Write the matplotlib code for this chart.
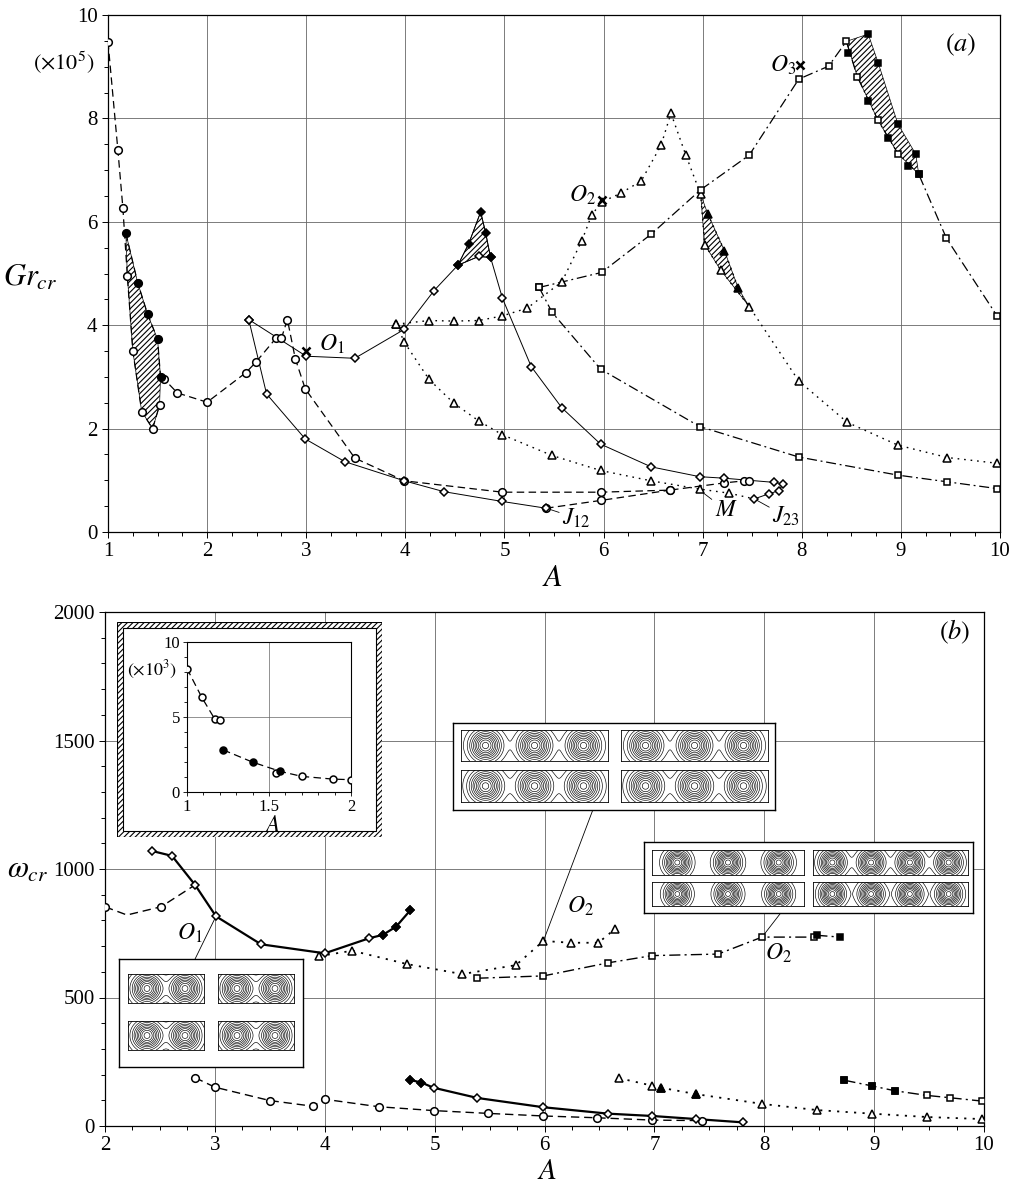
import numpy as np
import matplotlib
matplotlib.use('Agg')
import matplotlib.pyplot as plt
from matplotlib.patches import Rectangle, Polygon
from matplotlib.ticker import MultipleLocator

plt.rcParams['font.family'] = 'Liberation Serif'
plt.rcParams['mathtext.fontset'] = 'stix'
plt.rcParams['hatch.linewidth'] = 0.8

W, H = 1013, 1185

# ---------------- panel (a): Gr_cr (x1e5) vs A ----------------
a_circ1_A = [1.0, 1.10, 1.15, 1.195, 1.25, 1.34, 1.45, 1.52]
a_circ1_G = [9.48, 7.38, 6.27, 4.96, 3.51, 2.33, 2.00, 2.45]
a_circ1f_A = [1.18, 1.30, 1.40, 1.50, 1.53]
a_circ1f_G = [5.78, 4.82, 4.21, 3.73, 3.00]
a_circ2_A = [1.53, 1.57, 1.70, 2.0, 2.39, 2.49, 2.70, 2.75, 2.81, 2.89, 2.99, 3.49,
             3.99, 4.98, 5.97, 6.67, 7.22, 7.42, 7.47]
a_circ2_G = [3.00, 2.95, 2.69, 2.51, 3.08, 3.28, 3.76, 3.75, 4.11, 3.35, 2.77, 1.43,
             0.99, 0.77, 0.77, 0.81, 0.95, 0.99, 0.99]
a_circ3_A = [5.42, 5.97, 6.67]
a_circ3_G = [0.46, 0.61, 0.81]

a_dia1_A = [2.42, 2.60, 2.99, 3.39, 3.99, 4.39, 4.98, 5.42]
a_dia1_G = [4.11, 2.67, 1.80, 1.36, 0.99, 0.78, 0.59, 0.46]
a_dia2_A = [2.42, 3.0, 3.49, 3.99, 4.29, 4.53, 4.74, 4.86, 4.98, 5.27, 5.58, 5.97,
            6.48, 6.97, 7.22, 7.72, 7.81, 7.77, 7.67, 7.52]
a_dia2_G = [4.11, 3.40, 3.36, 3.92, 4.67, 5.16, 5.33, 5.31, 4.52, 3.20, 2.40, 1.70,
            1.26, 1.07, 1.04, 0.96, 0.93, 0.80, 0.74, 0.64]
a_dia2f_A = [4.53, 4.64, 4.76, 4.81, 4.86]
a_dia2f_G = [5.16, 5.58, 6.19, 5.79, 5.31]

a_tri1_A = [3.91, 4.24, 4.49, 4.74, 4.98, 5.23, 5.58, 5.78, 5.88, 5.98, 6.18, 6.38,
            6.58, 6.68, 6.83, 6.98, 7.02, 7.18, 7.47, 7.97, 8.46, 8.97, 9.47, 9.97]
a_tri1_G = [4.02, 4.09, 4.08, 4.09, 4.18, 4.33, 4.84, 5.63, 6.13, 6.38, 6.56, 6.79,
            7.48, 8.10, 7.29, 6.53, 5.56, 5.07, 4.36, 2.92, 2.12, 1.68, 1.44, 1.33]
a_tri1f_A = [7.05, 7.22, 7.36]
a_tri1f_G = [6.16, 5.44, 4.71]
a_tri2_A = [3.91, 3.99, 4.24, 4.49, 4.74, 4.98, 5.48, 5.97, 6.48, 6.97, 7.27, 7.52]
a_tri2_G = [4.02, 3.67, 2.95, 2.49, 2.15, 1.88, 1.48, 1.19, 0.99, 0.83, 0.75, 0.64]

a_sq1_A = [5.35, 5.98, 6.48, 6.98, 7.47, 7.97, 8.27, 8.45, 8.56, 8.77, 8.97, 9.18, 9.46, 9.97]
a_sq1_G = [4.73, 5.02, 5.76, 6.62, 7.29, 8.76, 9.01, 9.49, 8.81, 7.96, 7.32, 6.92, 5.68, 4.18]
a_sq1f_A = [8.47, 8.67, 8.77, 8.67, 8.97, 8.87, 9.15, 9.07, 9.18]
a_sq1f_G = [9.26, 9.63, 9.08, 8.34, 7.89, 7.63, 7.31, 7.07, 6.92]
a_sq2_A = [5.35, 5.48, 5.97, 6.97, 7.97, 8.97, 9.47, 9.97]
a_sq2_G = [4.73, 4.25, 3.15, 2.04, 1.45, 1.10, 0.97, 0.84]

a_cross_A = [3.0, 5.98, 7.98]
a_cross_G = [3.50, 6.42, 9.03]

# ---------------- panel (b): omega_cr vs A ----------------
b_circ1_A = [2.0, 2.2, 2.51, 2.82]
b_circ1_W = [853, 821, 853, 938]
b_dia1_A = [2.43, 2.61, 2.82, 3.01, 3.42, 4.0, 4.40, 4.53, 4.65, 4.78]
b_dia1_W = [1070, 1051, 938, 816, 707, 672, 730, 744, 776, 840]
b_tri1_A = [3.95, 4.25, 4.75, 5.25, 5.74, 5.99, 6.24, 6.49, 6.64]
b_tri1_W = [661, 682, 630, 591, 626, 720, 713, 713, 766]
b_sq1_A = [5.39, 5.99, 6.58, 6.98, 7.58, 7.98, 8.45, 8.48, 8.69]
b_sq1_W = [575, 584, 635, 663, 669, 735, 735, 742, 735]

b_circ2_A = [2.82, 3.0, 3.5, 3.89, 4.0, 4.49, 4.99, 5.49, 5.99, 6.48, 6.98, 7.43]
b_circ2_W = [188, 151, 99, 77, 104, 75, 60, 49, 39, 32, 23, 21]
b_dia2_A = [4.78, 4.88, 4.99, 5.39, 5.99, 6.58, 6.98, 7.38, 7.81]
b_dia2_W = [179, 169, 149, 109, 73, 48, 39, 27, 14]
b_tri2_A = [6.68, 6.98, 7.06, 7.38, 7.98, 8.48, 8.98, 9.48, 9.98]
b_tri2_W = [186, 157, 149, 124, 86, 62, 48, 35, 27]
b_sq2_A = [8.73, 8.98, 9.19, 9.48, 9.69, 9.98]
b_sq2_W = [178, 156, 137, 119, 110, 97]

# inset (x1e3)
in_open1_A = [1.0, 1.09, 1.17, 1.20]
in_open1_W = [8.23, 6.31, 4.85, 4.80]
in_fill_A = [1.22, 1.40, 1.57, 1.70, 1.89, 2.0]
in_fill_W = [2.81, 1.99, 1.37, 1.04, 0.86, 0.82]
in_open2_A = [1.54, 1.70, 1.89, 2.0]
in_open2_W = [1.26, 1.04, 0.86, 0.82]

DASH = (6, 3.5)
DOT = (1.2, 3.5)
DASHDOT = (8, 3, 1.5, 3)


def line(ax, A, V, dashes=None, lw=0.8):
    if dashes is None:
        ax.plot(A, V, color='k', lw=lw, zorder=3)
    else:
        ax.plot(A, V, color='k', lw=lw, dashes=dashes, zorder=3)


def marks(ax, A, V, marker, fill='white', ms=5.5, every=None):
    ax.plot(A, V, ls='none', marker=marker, ms=ms, mfc=fill, mec='k', mew=1.1,
            markevery=every, zorder=5)


def hatch(ax, xs, ys):
    ax.add_patch(Polygon(np.column_stack([xs, ys]), closed=True, facecolor='white',
                         edgecolor='k', lw=0.5, hatch='//////', zorder=2))


def style_axes(ax):
    ax.tick_params(which='both', direction='out', labelsize=15, width=0.7)
    ax.tick_params(which='major', length=4)
    ax.tick_params(which='minor', length=3)
    ax.grid(True, which='major', color='0.4', lw=0.6)
    for s in ax.spines.values():
        s.set_linewidth(0.9)


fig = plt.figure(figsize=(W / 100, H / 100), dpi=100)

# ---------------- (a) ----------------
ax1 = fig.add_axes([108 / W, 1 - 532 / H, (1000 - 108) / W, (532 - 15) / H])
ax1.set_xlim(1, 10)
ax1.set_ylim(0, 10)
ax1.set_xticks(range(1, 11))
ax1.set_yticks(range(0, 11, 2))
ax1.xaxis.set_minor_locator(MultipleLocator(0.25))
ax1.yaxis.set_minor_locator(MultipleLocator(0.5))
style_axes(ax1)

# hatched regions
hatch(ax1, [a_circ1f_A[0]] + a_circ1_A[3:8] + a_circ1f_A[:0:-1],
      [a_circ1f_G[0]] + a_circ1_G[3:8] + a_circ1f_G[:0:-1])
hatch(ax1, a_dia2f_A + [a_dia2_A[6]], a_dia2f_G + [a_dia2_G[6]])
hatch(ax1, [a_tri1_A[15]] + a_tri1f_A + [a_tri1_A[18], a_tri1_A[17], a_tri1_A[16]],
      [a_tri1_G[15]] + a_tri1f_G + [a_tri1_G[18], a_tri1_G[17], a_tri1_G[16]])
hatch(ax1, a_sq1_A[7:12] + [a_sq1f_A[i] for i in (6, 4, 2, 1)],
      a_sq1_G[7:12] + [a_sq1f_G[i] for i in (6, 4, 2, 1)])

line(ax1, a_circ1_A, a_circ1_G, DASH, 0.9)
line(ax1, a_circ1f_A, a_circ1f_G, DASH, 0.9)
line(ax1, a_circ2_A, a_circ2_G, DASH, 0.9)
line(ax1, a_circ3_A, a_circ3_G, DASH, 0.9)
line(ax1, a_dia1_A, a_dia1_G, None, 0.7)
line(ax1, a_dia2_A, a_dia2_G, None, 0.7)
line(ax1, a_dia2f_A, a_dia2f_G, None, 0.7)
line(ax1, a_tri1_A, a_tri1_G, DOT, 1.0)
line(ax1, a_tri2_A, a_tri2_G, DOT, 1.0)
line(ax1, a_tri1f_A, a_tri1f_G, DOT, 1.0)
line(ax1, a_sq1_A, a_sq1_G, DASHDOT, 0.9)
line(ax1, a_sq2_A, a_sq2_G, DASHDOT, 0.9)

marks(ax1, a_circ1_A, a_circ1_G, 'o')
marks(ax1, a_circ2_A[1:], a_circ2_G[1:], 'o')
marks(ax1, a_circ3_A, a_circ3_G, 'o')
marks(ax1, a_circ1f_A, a_circ1f_G, 'o', fill='k')
marks(ax1, a_dia1_A, a_dia1_G, 'D', ms=4.5)
marks(ax1, a_dia2_A, a_dia2_G, 'D', ms=4.5)
marks(ax1, a_dia2f_A, a_dia2f_G, 'D', fill='k', ms=4.5)
marks(ax1, a_tri1_A, a_tri1_G, '^', ms=5.5)
marks(ax1, a_tri2_A[:-1], a_tri2_G[:-1], '^', ms=5.5)
marks(ax1, a_tri1f_A, a_tri1f_G, '^', fill='k', ms=5.5)
marks(ax1, a_sq1_A, a_sq1_G, 's', ms=5)
marks(ax1, a_sq2_A, a_sq2_G, 's', ms=5)
marks(ax1, a_sq1f_A, a_sq1f_G, 's', fill='k', ms=5)
ax1.plot(a_cross_A, a_cross_G, ls='none', marker='x', ms=6, mew=1.8, color='k', zorder=6)

ax1.text(3.13, 3.62, r'$O_1$', fontsize=17, va='center', zorder=7)
ax1.text(5.65, 6.52, r'$O_2$', fontsize=17, va='center', zorder=7)
ax1.text(7.68, 9.03, r'$O_3$', fontsize=17, va='center', zorder=7)
ax1.annotate(r'$J_{12}$', xy=(5.47, 0.43), xytext=(5.58, 0.27), fontsize=17, va='center',
             arrowprops=dict(arrowstyle='-', lw=0.6, shrinkA=0, shrinkB=0))
ax1.annotate(r'$M$', xy=(6.99, 0.78), xytext=(7.12, 0.42), fontsize=17, va='center',
             arrowprops=dict(arrowstyle='-', lw=0.6, shrinkA=0, shrinkB=0))
ax1.annotate(r'$J_{23}$', xy=(7.55, 0.61), xytext=(7.70, 0.30), fontsize=17, va='center',
             arrowprops=dict(arrowstyle='-', lw=0.6, shrinkA=0, shrinkB=0))
ax1.text(9.6, 9.42, r'$(a)$', fontsize=19, ha='center', va='center')
ax1.text(0.55, 9.07, r'$(\times10^5)$', fontsize=16, ha='center', va='center', clip_on=False)
ax1.text(0.21, 4.91, r'$Gr_{cr}$', fontsize=22, ha='center', va='center', clip_on=False)
ax1.text(5.48, -0.89, r'$A$', fontsize=22, ha='center', va='center', clip_on=False)

# ---------------- (b) ----------------
ax2 = fig.add_axes([105 / W, 1 - 1126 / H, (984 - 105) / W, (1126 - 612) / H])
ax2.set_xlim(2, 10)
ax2.set_ylim(0, 2000)
ax2.set_xticks(range(2, 11))
ax2.set_yticks([0, 500, 1000, 1500, 2000])
ax2.xaxis.set_minor_locator(MultipleLocator(0.25))
ax2.yaxis.set_minor_locator(MultipleLocator(100))
style_axes(ax2)

line(ax2, b_circ1_A, b_circ1_W, DASH, 1.0)
line(ax2, b_dia1_A, b_dia1_W, None, 1.6)
line(ax2, b_tri1_A, b_tri1_W, DOT, 1.3)
line(ax2, b_sq1_A, b_sq1_W, (8, 3, 1.5, 3), 1.0)
line(ax2, b_circ2_A, b_circ2_W, DASH, 1.0)
line(ax2, b_dia2_A, b_dia2_W, None, 1.6)
line(ax2, b_tri2_A, b_tri2_W, DOT, 1.3)
line(ax2, b_sq2_A, b_sq2_W, (8, 3, 1.5, 3), 1.0)

marks(ax2, b_circ1_A, b_circ1_W, 'o', every=[0, 2])
marks(ax2, b_dia1_A, b_dia1_W, 'D', ms=4.5)
marks(ax2, b_dia1_A[7:], b_dia1_W[7:], 'D', fill='k', ms=4.5)
marks(ax2, b_tri1_A, b_tri1_W, '^')
marks(ax2, b_sq1_A[:7], b_sq1_W[:7], 's', ms=5)
marks(ax2, b_sq1_A[7:], b_sq1_W[7:], 's', fill='k', ms=5)
marks(ax2, b_circ2_A, b_circ2_W, 'o')
marks(ax2, b_dia2_A, b_dia2_W, 'D', ms=4.5)
marks(ax2, b_dia2_A[:2], b_dia2_W[:2], 'D', fill='k', ms=4.5)
marks(ax2, b_tri2_A, b_tri2_W, '^')
marks(ax2, b_tri2_A[2:4], b_tri2_W[2:4], '^', fill='k')
marks(ax2, b_sq2_A, b_sq2_W, 's', ms=5)
marks(ax2, b_sq2_A[:3], b_sq2_W[:3], 's', fill='k', ms=5)

ax2.text(2.77, 748, r'$O_1$', fontsize=17, ha='center', va='center', zorder=7)
ax2.text(6.33, 853, r'$O_2$', fontsize=17, ha='center', va='center', zorder=7)
ax2.text(8.13, 673, r'$O_2$', fontsize=17, ha='center', va='center', zorder=7)
ax2.plot([3.01, 2.82], [816, 650], color='k', lw=0.6, zorder=3)
ax2.plot([5.99, 6.44], [720, 1230], color='k', lw=0.6, zorder=3)
ax2.plot([7.98, 8.15], [735, 829], color='k', lw=0.6, zorder=3)
ax2.text(9.73, 1922, r'$(b)$', fontsize=19, ha='center', va='center')
ax2.text(1.30, 996, r'$\omega_{cr}$', fontsize=22, ha='center', va='center', clip_on=False)
ax2.text(6.02, -180, r'$A$', fontsize=21, ha='center', va='center', clip_on=False)


def px_axes(x0, y0, x1, y1):
    return fig.add_axes([x0 / W, 1 - y1 / H, (x1 - x0) / W, (y1 - y0) / H])


# hatched frame of the inset
box = px_axes(117, 622, 382, 837)
box.set_axis_off()
box.add_patch(Rectangle((0, 0), 1, 1, facecolor='white', edgecolor='k', hatch='//////',
                        lw=0.8, transform=box.transAxes))
box.add_patch(Rectangle((6 / 265, 6 / 215), 1 - 12 / 265, 1 - 12 / 215, facecolor='white',
                        edgecolor='k', lw=0.8, transform=box.transAxes))

ins = px_axes(187, 642, 351, 792)
ins.set_xlim(1, 2)
ins.set_ylim(0, 10)
ins.set_xticks([1, 1.5, 2])
ins.set_xticklabels(['1', '1.5', '2'])
ins.set_yticks([0, 5, 10])
ins.xaxis.set_minor_locator(MultipleLocator(0.1))
ins.yaxis.set_minor_locator(MultipleLocator(1))
ins.tick_params(which='both', direction='out', labelsize=12, width=0.6, pad=2)
ins.tick_params(which='major', length=3)
ins.tick_params(which='minor', length=2)
ins.grid(True, which='major', color='0.4', lw=0.5)
line(ins, in_open1_A, in_open1_W, DASH, 0.9)
line(ins, in_fill_A, in_fill_W, DASH, 0.9)
marks(ins, in_open1_A, in_open1_W, 'o', ms=5)
marks(ins, in_open2_A, in_open2_W, 'o', ms=5)
marks(ins, in_fill_A[:3], in_fill_W[:3], 'o', fill='k', ms=5)
ins.text(0.79, 8.13, r'$(\times10^3)$', fontsize=13, ha='center', va='center', clip_on=False)
ins.text(1.52, -2.3, r'$A$', fontsize=17, ha='center', va='center', clip_on=False)


# flow-pattern thumbnails
def flow_panel(x0, y0, x1, y1, n):
    ax = px_axes(x0, y0, x1, y1)
    L = (x1 - x0) / (y1 - y0)
    X, Y = np.meshgrid(np.linspace(0, L, 240), np.linspace(0, 1, 60))
    psi = np.zeros_like(X)
    for k in range(n):
        xc = L * (k + 0.5) / n
        psi += np.exp(-((X - xc) ** 2 + (Y - 0.5) ** 2) / 0.2)
    ax.contour(X, Y, psi, levels=np.linspace(0.08, 0.95, 10), colors='k', linewidths=0.45)
    ax.set_xticks([])
    ax.set_yticks([])
    for s in ax.spines.values():
        s.set_linewidth(0.6)


def frame(x0, y0, x1, y1):
    ax = px_axes(x0, y0, x1, y1)
    ax.set_xticks([])
    ax.set_yticks([])
    for s in ax.spines.values():
        s.set_linewidth(1.0)


frame(119, 959, 303, 1067)
for (c0, c1) in [(128, 204), (218, 294)]:
    for (r0, r1) in [(974, 1003), (1021, 1050)]:
        flow_panel(c0, r0, c1, r1, 2)

frame(453, 723, 775, 810)
for (c0, c1) in [(461, 608), (621, 768)]:
    for (r0, r1) in [(730, 761), (770, 802)]:
        flow_panel(c0, r0, c1, r1, 3)

frame(644, 842, 973, 913)
for (c0, c1, n) in [(652, 804, 3), (813, 968, 4)]:
    for (r0, r1) in [(850, 875), (882, 906)]:
        flow_panel(c0, r0, c1, r1, n)

fig.savefig('out.png', dpi=100)
